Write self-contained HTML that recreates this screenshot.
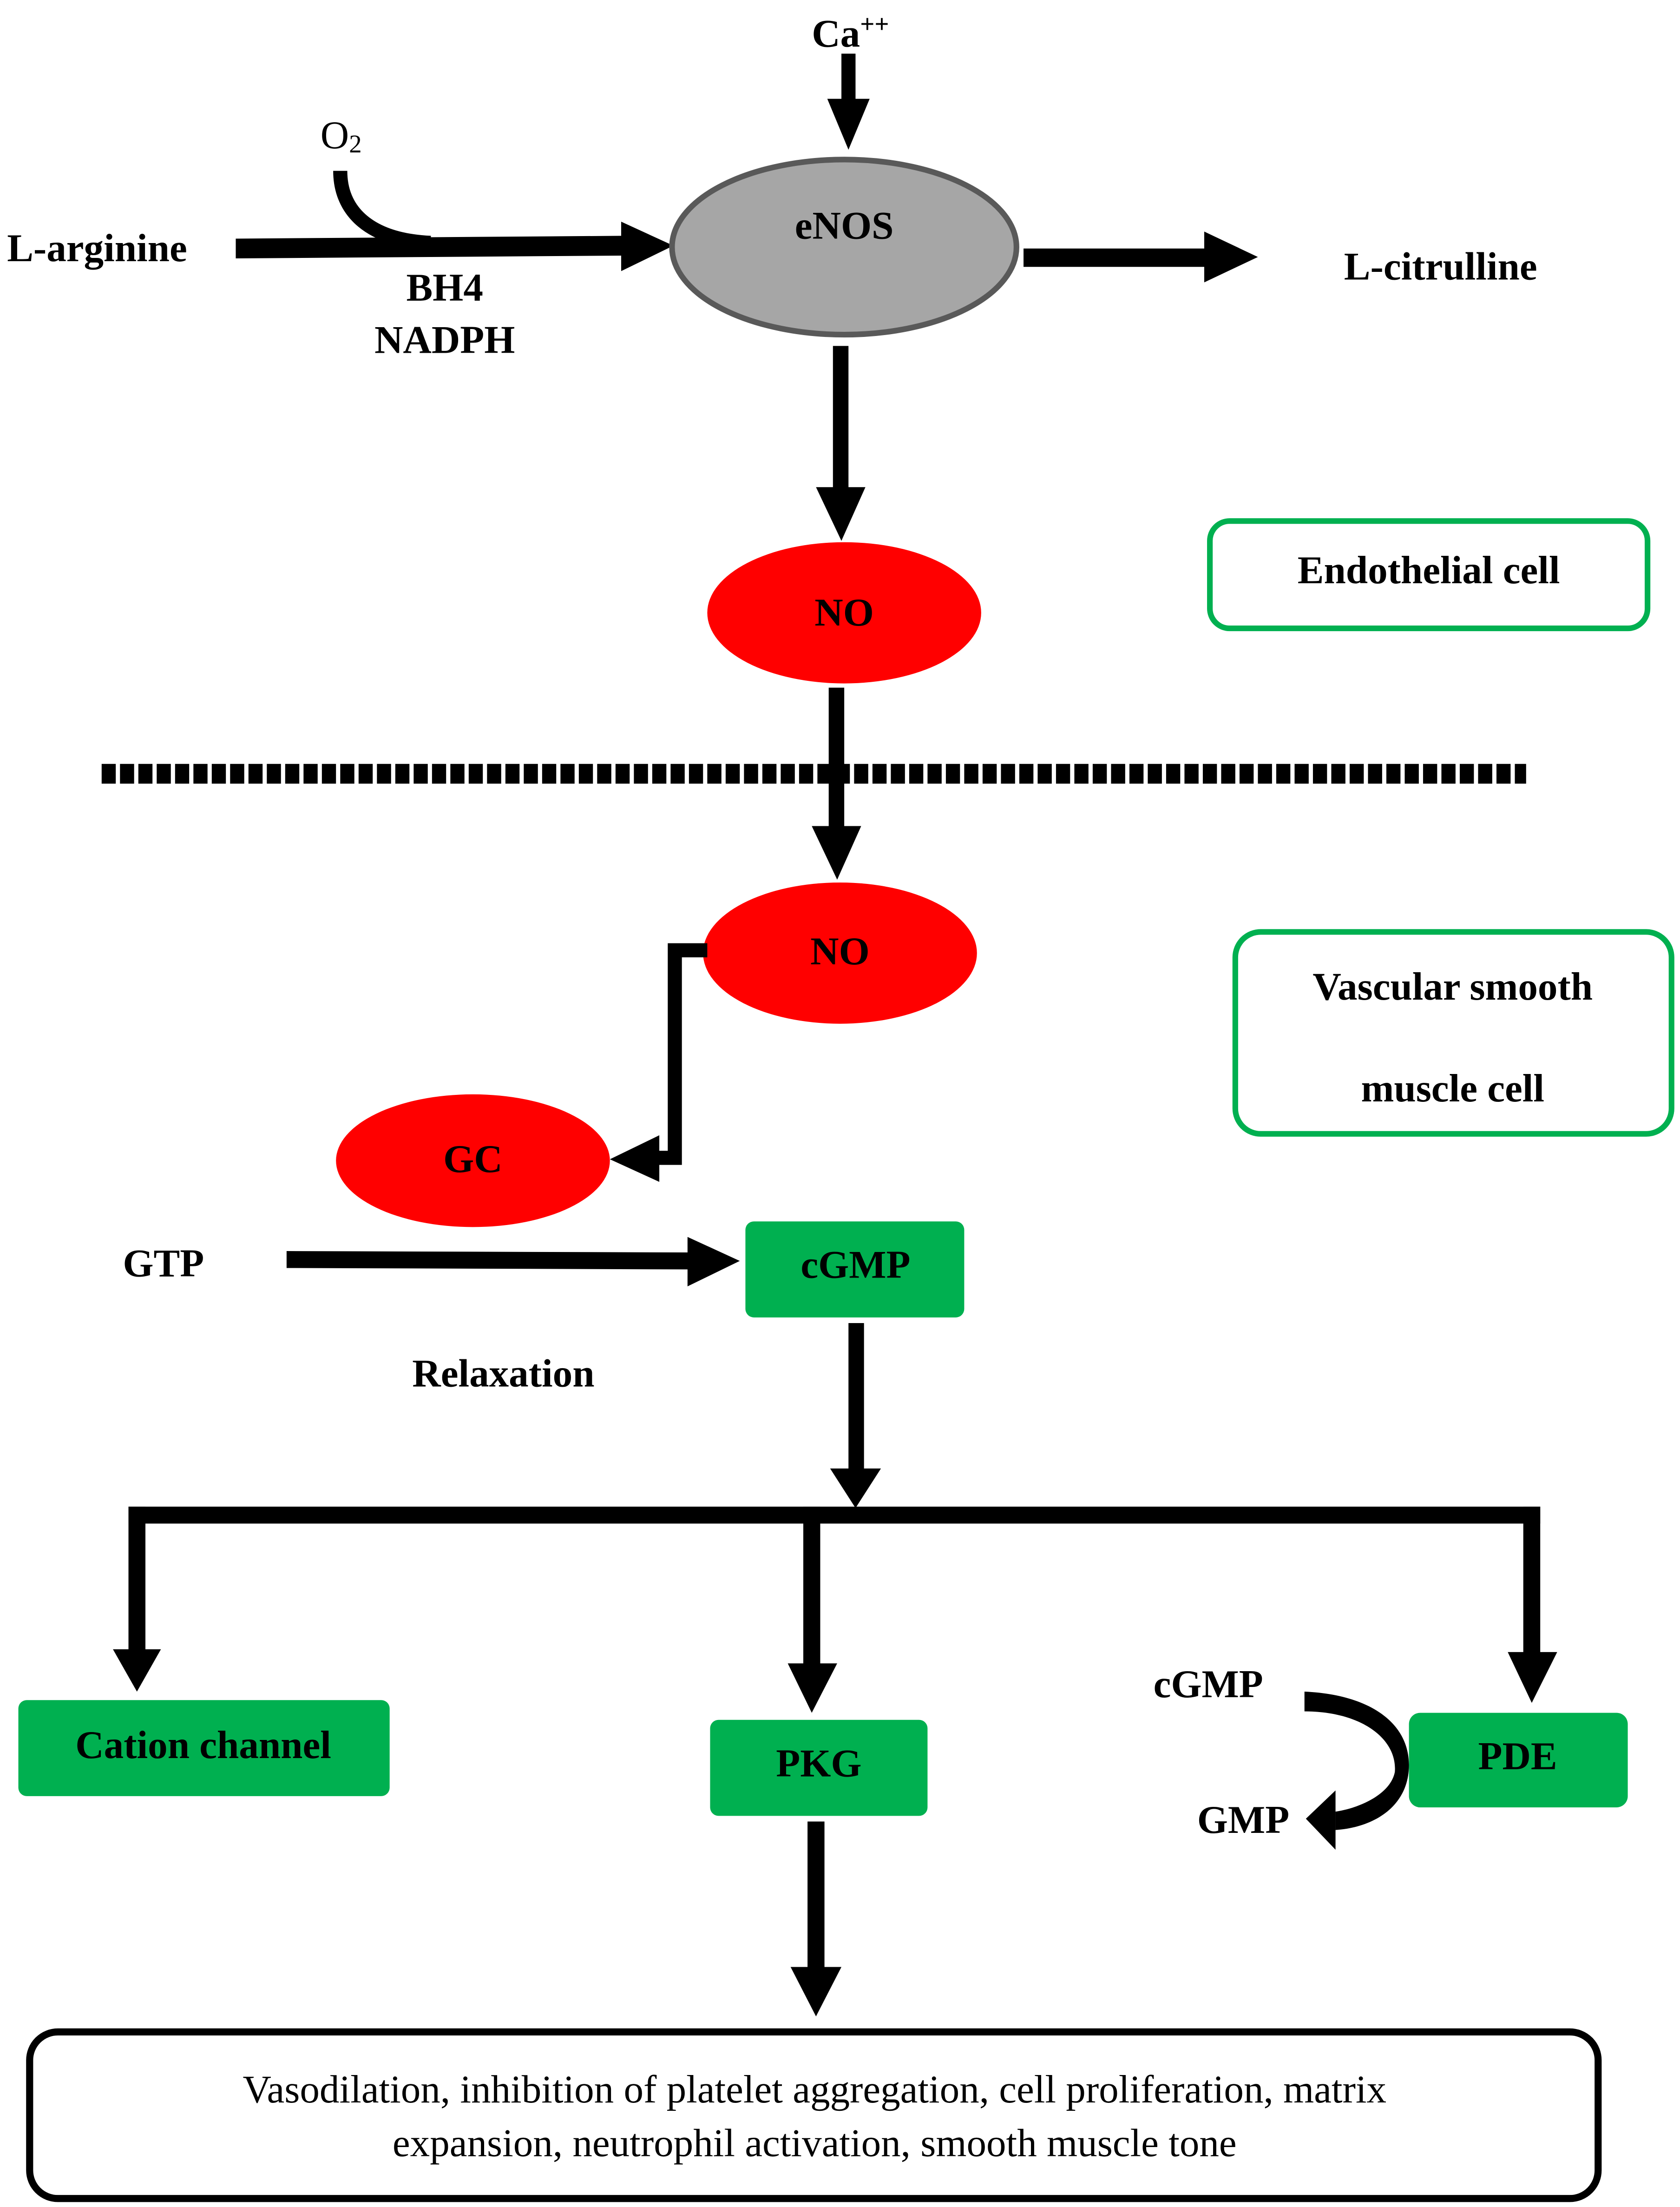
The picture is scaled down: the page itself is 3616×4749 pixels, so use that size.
<!DOCTYPE html>
<html><head><meta charset="utf-8"><style>
html,body{margin:0;padding:0;background:#fff}
svg{display:block}
text{font-family:"Liberation Serif","Times New Roman",Times,"DejaVu Serif",serif;font-weight:bold;font-size:28px;fill:#000}
.n{font-weight:normal}
</style></head><body>
<svg width="3616" height="4749" viewBox="0 0 1190 1563" preserveAspectRatio="none" xmlns="http://www.w3.org/2000/svg" font-family="Liberation Serif, serif">
<text x="575" y="33">Ca<tspan font-size="18" dy="-10">++</tspan></text>
<rect x="596" y="38" width="10" height="34"/>
<polygon points="586,70 616,70 601,106"/>
<text x="227" y="105" class="n">O<tspan font-size="18" dy="3">2</tspan></text>
<path d="M241,121 C241,150 262,170 305,172" fill="none" stroke="#000" stroke-width="10"/>
<text x="5" y="185">L-arginine</text>
<polygon points="167,169 442,167 442,181 167,183"/>
<polygon points="440,157 477,174 440,192"/>
<text x="315" y="213" text-anchor="middle">BH4</text>
<text x="315" y="250" text-anchor="middle">NADPH</text>
<ellipse cx="598" cy="175" rx="122" ry="62" fill="#a6a6a6" stroke="#595959" stroke-width="4"/>
<text x="598" y="169" text-anchor="middle">eNOS</text>
<rect x="725" y="176" width="130" height="13"/>
<polygon points="853,164 891,182 853,200"/>
<text x="952" y="198">L-citrulline</text>
<rect x="590" y="245" width="11" height="105"/>
<polygon points="578,345 613,345 596,383"/>
<ellipse cx="598" cy="434" rx="97" ry="50" fill="#ff0000"/>
<text x="598" y="443" text-anchor="middle">NO</text>
<rect x="857" y="369" width="310" height="76" rx="14" fill="none" stroke="#00b050" stroke-width="4"/>
<text x="1012" y="413" text-anchor="middle">Endothelial cell</text>
<rect x="587" y="487" width="11" height="100"/>
<line x1="72" y1="548" x2="1081" y2="548" stroke="#000" stroke-width="14" stroke-dasharray="10,3"/>
<polygon points="575,585 610,585 593,623"/>
<ellipse cx="595" cy="675" rx="97" ry="50" fill="#ff0000"/>
<text x="595" y="683" text-anchor="middle">NO</text>
<path d="M501,673 H478 V820 H462" fill="none" stroke="#000" stroke-width="10"/>
<polygon points="467,804 432,821 467,837"/>
<ellipse cx="335" cy="822" rx="97" ry="47" fill="#ff0000"/>
<text x="335" y="830" text-anchor="middle">GC</text>
<rect x="875" y="660" width="309" height="143" rx="18" fill="none" stroke="#00b050" stroke-width="4"/>
<text x="1029" y="708" text-anchor="middle">Vascular smooth</text>
<text x="1029" y="780" text-anchor="middle">muscle cell</text>
<text x="87" y="904">GTP</text>
<polygon points="203,886 490,887 490,899 203,898"/>
<polygon points="487,876 524,893 487,911"/>
<rect x="528" y="865" width="155" height="68" rx="6" fill="#00b050"/>
<text x="606" y="905" text-anchor="middle">cGMP</text>
<text x="292" y="982">Relaxation</text>
<rect x="601" y="937" width="11" height="106"/>
<polygon points="588,1040 624,1040 606,1068"/>
<rect x="91" y="1067" width="1000" height="12"/>
<rect x="91" y="1067" width="12" height="105"/>
<polygon points="80,1168 114,1168 97,1198"/>
<rect x="569" y="1067" width="12" height="115"/>
<polygon points="558,1178 593,1178 575,1213"/>
<rect x="1079" y="1067" width="12" height="107"/>
<polygon points="1068,1170 1103,1170 1085,1206"/>
<rect x="13" y="1204" width="263" height="68" rx="6" fill="#00b050"/>
<text x="144" y="1245" text-anchor="middle">Cation channel</text>
<rect x="503" y="1218" width="154" height="68" rx="6" fill="#00b050"/>
<text x="580" y="1258" text-anchor="middle">PKG</text>
<rect x="998" y="1213" width="155" height="67" rx="8" fill="#00b050"/>
<text x="1075" y="1253" text-anchor="middle">PDE</text>
<text x="817" y="1202">cGMP</text>
<text x="848" y="1298">GMP</text>
<path d="M924,1198 L924,1212 C965,1212 990,1232 988,1255 C985,1270 965,1280 946,1283 L946,1296 C975,1294 998,1278 998,1250 C998,1220 970,1200 924,1198 Z"/>
<polygon points="946,1268 925,1288 946,1310"/>
<rect x="572" y="1290" width="12" height="106"/>
<polygon points="560,1393 596,1393 578,1428"/>
<rect x="21" y="1439" width="1111" height="118" rx="20" fill="#fff" stroke="#000" stroke-width="5"/>
<text x="577" y="1489" text-anchor="middle" class="n">Vasodilation, inhibition of platelet aggregation, cell proliferation, matrix</text>
<text x="577" y="1527" text-anchor="middle" class="n">expansion, neutrophil activation, smooth muscle tone</text>
</svg>
</body></html>
